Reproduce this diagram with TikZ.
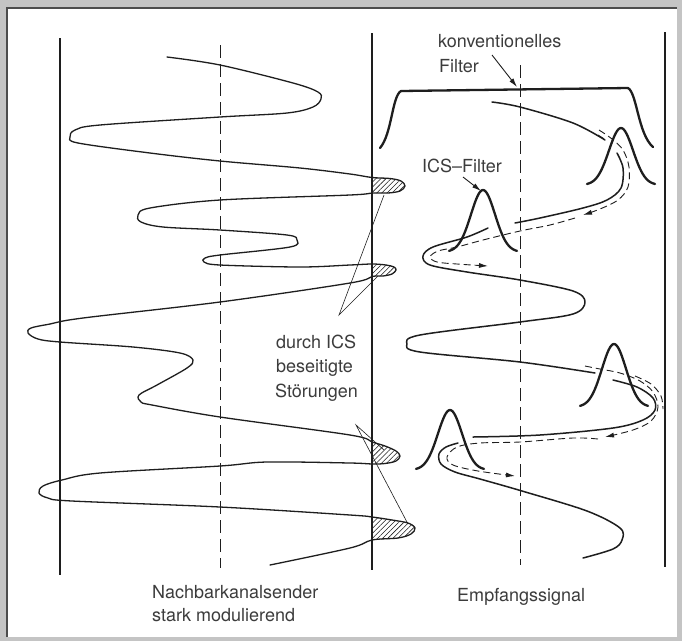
\documentclass[tikz,border=0pt]{standalone}
\usepackage{fontspec}
\setmainfont{TeX Gyre Heros}
\usetikzlibrary{patterns.meta,arrows.meta}
\definecolor{txt}{HTML}{3C3C3C}
\definecolor{ink}{HTML}{1E1E1E}
\definecolor{framegray}{HTML}{C4C4C4}
\begin{document}
\begin{tikzpicture}[x=1pt,y=-1pt,
  sig/.style={ink, line width=1.5pt, line cap=round, line join=round},
  filt/.style={ink, line width=2.3pt, line cap=round, line join=round},
  axisline/.style={ink, line width=1.8pt},
  centre/.style={ink, line width=1pt, dash pattern=on 13pt off 6pt},
  track/.style={ink, line width=0.9pt, dash pattern=on 7pt off 4pt},
  leader/.style={ink, line width=0.6pt},
  lbl/.style={txt, font=\fontsize{18}{21}\selectfont, inner sep=0pt, anchor=base west},
  tipa/.style={-{Latex[length=9pt,width=5pt]}},
  hatch/.style={pattern={Lines[angle=45,distance=3.6pt,line width=0.55pt]}, pattern color=ink},
  pics/gauss/.style n args={2}{code={\draw[filt] plot[domain=-34:34,samples=51,smooth] (\x,{-#1*exp(-(\x/#2)*(\x/#2))});}},
]
\useasboundingbox (0,0) rectangle (682,641);
\fill[framegray] (0,0) rectangle (682,641);
\fill[white] (7,8) rectangle (677,637);
\draw[gray!60!black, line width=1.2pt] (7,637) -- (7,8) -- (677,8);

% verticals
\draw[axisline] (60,38) -- (60,575);
\draw[axisline] (372,33) -- (372,570);
\draw[axisline] (665,32) -- (665,567);
\draw[centre] (220,45) -- (220,568);
\draw[centre] (520,65) -- (520,565);

% hatched lobes
\fill[hatch] plot[smooth,tension=0.6] coordinates {(372,177.5)(390,178.5)(401,181)(405,186)(400,191)(388,193)(372,193)} -- cycle;
\fill[hatch] plot[smooth,tension=0.6] coordinates {(372,264)(386,265)(394,267)(396,270)(392,274)(383,276)(372,276.5)} -- cycle;
\fill[hatch] plot[smooth,tension=0.6] coordinates {(372,442)(385,446)(396,451)(400,456)(396,461)(385,463.5)(372,464)} -- cycle;
\fill[hatch] plot[smooth,tension=0.6] coordinates {(372,517)(392,520)(408,523)(415,528)(411,534)(398,538)(372,540)} -- cycle;

% neighbour channel signal
\draw[sig, line width=1.3pt] plot[smooth,tension=0.55] coordinates {(167,57)(220,65)(293,83)(318,92)(321,99)(313,107)(287,113)(220,117)(100,125)(75,130)(70,137)(78,143)(150,153)(220,161)(300,168)(350,174)(372,177.5)(390,178.5)(401,181)(405,186)(400,191)(388,193)(372,193)(350,195)(220,200)(150,208)(138,215)(141,222)(163,227)(220,230)(287,235)(297,240)(290,247)(220,255)(205,258)(204,262)(220,265)(300,267)(350,265)(372,264)(386,265)(394,267)(396,270)(392,274)(383,276)(372,276.5)(350,283)(220,302)(83,318)(50,324)(31,328)(28,333)(38,339)(60,342)(133,347)(180,353)(193,360)(187,368)(157,385)(139,395)(141,402)(152,405)(220,417)(350,435)(372,442)(385,446)(396,451)(400,456)(396,461)(385,463.5)(372,464)(350,463)(267,462)(220,466)(100,473)(62,480)(43,486)(39,493)(48,498)(72,501)(220,507)(350,515)(372,517)(392,520)(408,523)(415,528)(411,534)(398,538)(372,540)(350,548)(270,565)};

% received signal
\draw[sig] plot[smooth,tension=0.55] coordinates {(492,102)(520,107)(573,123)(605,140)};
\draw[sig] plot[smooth,tension=0.55] coordinates {(617,153)(623,168)(621,188)(607,200)(583,208)(540,218)(515,223)};
\draw[sig] plot[smooth,tension=0.55] coordinates {(488,228)(467,237)(433,247)(423,256)(430,265)(467,272)(520,280)(573,291)(585,302)(573,314)(520,322)(420,335)(407,344)(420,352)(520,362)(595,373)};
\draw[sig] plot[smooth,tension=0.55] coordinates {(613,380)(637,387)(653,398)(655,410)(643,420)(613,428)(540,435)(473,437)};
\draw[sig] plot[smooth,tension=0.55] coordinates {(458,443)(446,447)(439,454)(441,464)(455,472)(480,479)(522,491)(587,511)(620,528)(622,540)(613,549)(583,558)};

% filter tracking paths
\draw[track, tipa] plot[smooth,tension=0.55] coordinates {(599,130)(612,139)(623,150)(629,167)(628,187)(618,200)(600,209)(583,215)};
\draw[track] (598,135) -- (606,140);
\draw[track, tipa] plot[smooth,tension=0.55] coordinates {(575,218)(550,225)(520,231)(483,240)(457,247)(438,251)(430,257)(437,262)(457,264)(488,266)};
\draw[track, tipa] plot[smooth,tension=0.55] coordinates {(585,366)(600,369)(620,373)(640,381)(653,392)(658,407)(651,421)(633,430)(605,437)};
\draw[track] plot[smooth,tension=0.55] coordinates {(635,376)(651,384)(661,396)(663,409)};
\draw[track, tipa] plot[smooth,tension=0.55] coordinates {(598,439)(573,438)(520,442)(480,443)(457,447)(447,457)(453,465)(478,471)(515,476)};

% ICS filters
\pic at (483,252) {gauss={62}{17}};
\pic at (621,185) {gauss={57}{17}};
\pic at (614,407) {gauss={63}{17}};
\pic at (450,470) {gauss={60}{17}};

% conventional filter
\draw[filt] (380,148) .. controls (392,134) and (392,96) .. (401,91) -- (628,88) .. controls (637,93) and (638,134) .. (653,147);

% labels
\node[lbl] (kon1) at (438,47) {konventionelles};
\node[lbl] (kon2) at (439,72) {Filter};
\node[lbl] (ics) at (422,172) {ICS–Filter};
\node[lbl] (dur1) at (276,348) {durch ICS};
\node[lbl] (dur2) at (276,372) {beseitigte};
\node[lbl] (dur3) at (275,397) {Störungen};
\node[lbl] (nb1) at (152,598) {Nachbarkanalsender};
\node[lbl] (nb2) at (152,621) {stark modulierend};
\node[lbl] (emp) at (457,601) {Empfangssignal};

% pointer arrows
\coordinate (kfa) at (492,55);
\coordinate (kfb) at (517,87);
\draw[ink, line width=0.9pt, tipa] (kfa) -- (kfb);
\coordinate (icsa) at (463,177);
\coordinate (icsb) at (481,191);
\draw[ink, line width=0.9pt, tipa] (icsa) -- (icsb);

% leader lines
\coordinate (up) at (339,315);
\coordinate (lob1) at (384,195);
\coordinate (lob2) at (378,276);
\draw[leader] (lob1) -- (up) -- (lob2);
\coordinate (lo) at (356,425);
\coordinate (lob3) at (384,450);
\coordinate (lob4) at (408,524);
\draw[leader] (lob3) -- (lo) -- (lob4);
\end{tikzpicture}
\end{document}
